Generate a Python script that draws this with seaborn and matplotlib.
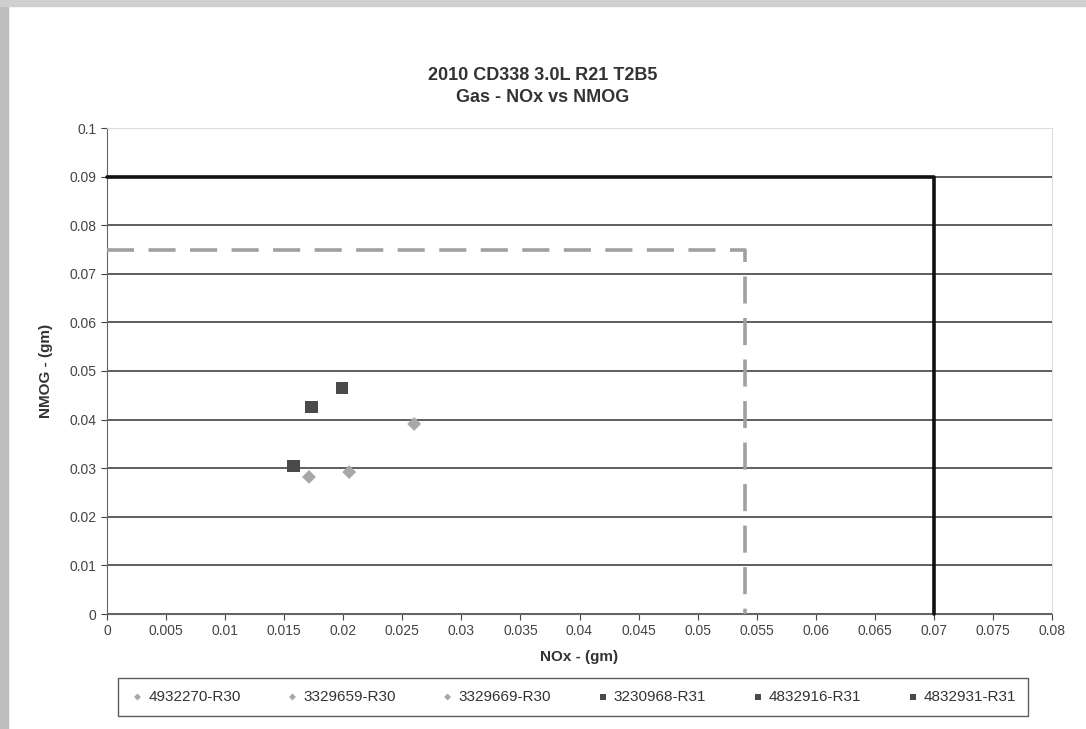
import pandas as pd
import matplotlib.pyplot as plt
import seaborn as sns

# Test data (NOx, NMOG in grams)
series = ['4932270-R30', '3329659-R30', '3329669-R30',
          '3230968-R31', '4832916-R31', '4832931-R31']
nox = [0.0171, 0.0205, 0.0260, 0.0158, 0.0173, 0.0199]
nmog = [0.0282, 0.0292, 0.0391, 0.0305, 0.0426, 0.0465]
run_group = ['R30', 'R30', 'R30', 'R31', 'R31', 'R31']

# Standards boxes
limit_nox = 0.07
limit_nmog = 0.09
target_nox = 0.054
target_nmog = 0.075

df = pd.DataFrame({'series': series, 'nox': nox, 'nmog': nmog, 'run': run_group})

sns.set_style('white')
plt.rcParams['font.family'] = ['Liberation Sans', 'DejaVu Sans']

fig = plt.figure(figsize=(10.86, 7.29), dpi=100)
ax = fig.add_axes([107 / 1086, 1 - 614 / 729, (1052 - 107) / 1086, (614 - 128) / 729])

palette = {s: ('#a8a8a8' if r == 'R30' else '#4a4a4a') for s, r in zip(series, run_group)}
markers = {s: ('D' if r == 'R30' else 's') for s, r in zip(series, run_group)}
sizes = {s: (50 if r == 'R30' else 80) for s, r in zip(series, run_group)}

for s in series:
    sub = df[df['series'] == s]
    sns.scatterplot(data=sub, x='nox', y='nmog', color=palette[s], marker=markers[s],
                    s=sizes[s], edgecolor='none', label=s, ax=ax, zorder=5)

ax.set_xlim(0, 0.08)
ax.set_ylim(0, 0.1)
ax.set_xticks([i * 0.005 for i in range(17)])
ax.set_xticklabels(['0'] + ['%g' % (i * 0.005) for i in range(1, 17)])
ax.set_yticks([i * 0.01 for i in range(11)])
ax.set_yticklabels(['0'] + ['%g' % (i * 0.01) for i in range(1, 11)])
ax.tick_params(axis='both', labelsize=10, colors='#444444', length=4, direction='out',
               bottom=True, left=True)
ax.grid(axis='y', color='#333333', linewidth=1.1)
ax.grid(axis='x', visible=False)
ax.set_axisbelow(True)
for side in ['left', 'bottom']:
    ax.spines[side].set_color('#666666')
for side in ['top', 'right']:
    ax.spines[side].set_color('#dddddd')

# Limit lines
ax.plot([0, limit_nox, limit_nox], [limit_nmog, limit_nmog, 0], color='#111111',
        linewidth=2.6, zorder=4, clip_on=False)
ax.plot([0, target_nox, target_nox], [target_nmog, target_nmog, 0], color='#a0a0a0',
        linewidth=2.6, linestyle=(0, (7.5, 4)), zorder=4, clip_on=False)

ax.set_xlabel('NOx - (gm)', fontsize=11, fontweight='bold', color='#333333', labelpad=8)
ax.set_ylabel('NMOG - (gm)', fontsize=11, fontweight='bold', color='#333333', labelpad=12)

fig.text(0.5, 1 - 75 / 729, '2010 CD338 3.0L R21 T2B5', ha='center', va='center',
         fontsize=13, fontweight='bold', color='#333333')
fig.text(0.5, 1 - 98 / 729, 'Gas - NOx vs NMOG', ha='center', va='center',
         fontsize=13, fontweight='bold', color='#333333')

leg = ax.legend(loc='center', bbox_to_anchor=((573 - 107) / 945, (614 - 697) / 486),
                ncol=6, frameon=True, fancybox=False, fontsize=11, markerscale=0.5,
                handlelength=1.0, handletextpad=0.2, columnspacing=2.9, borderpad=0.8,
                edgecolor='#333333')
leg.get_frame().set_linewidth(1.0)
for t in leg.get_texts():
    t.set_color('#333333')

# Scanned page border
fig.patches.append(plt.Rectangle((0, 0), 8 / 1086, 1, transform=fig.transFigure,
                                 color='#bdbdbd', zorder=-1))
fig.patches.append(plt.Rectangle((0, 1 - 6 / 729), 1, 6 / 729, transform=fig.transFigure,
                                 color='#cfcfcf', zorder=-1))

fig.savefig('out.png', dpi=100)
